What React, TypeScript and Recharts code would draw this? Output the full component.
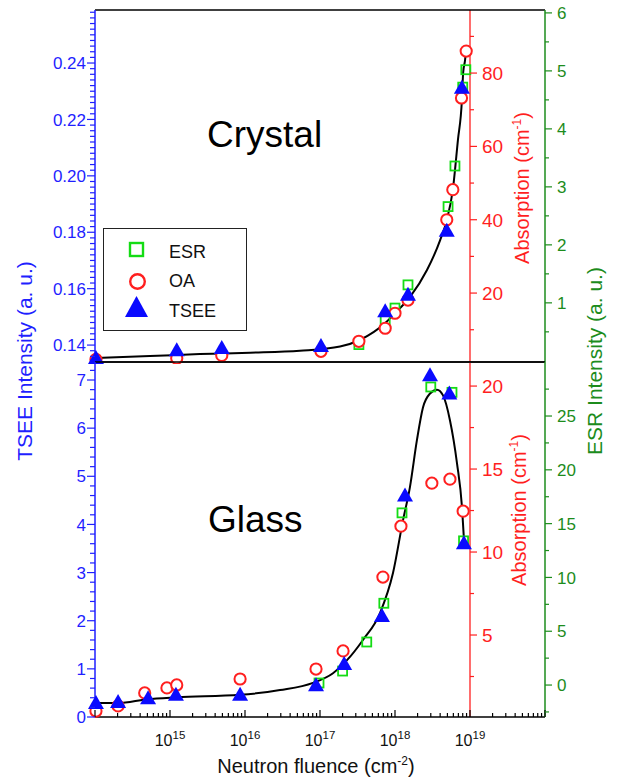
import React from "react";
import {
  ComposedChart,
  Scatter,
  Line,
  XAxis,
  YAxis,
  ReferenceLine,
  ReferenceDot,
  Legend,
} from "recharts";

const FONT = "'Liberation Sans', Arial, Helvetica, sans-serif";
const BLUE = "#1f1fff";
const RED = "#ff1f1f";
const GREEN = "#1c8c1c";
const LIME = "#14dc14";

// ---- shared x axis (log neutron fluence) ----
const xDomain: [number, number] = [1e14, 1e20];
const xDecades = [14, 15, 16, 17, 18, 19];
const xTickExponents = [15, 16, 17, 18, 19];
const redAxisAt = 1e19;

// ---- Crystal panel ----
const crystalTseeFluence = [1.03e14, 1.23e15, 4.9e15, 1.03e17, 7.4e17, 1.49e18, 4.9e18, 7.8e18];
const crystalTsee = [0.1354, 0.1382, 0.139, 0.1397, 0.152, 0.1578, 0.1805, 0.2312];
const crystalOaFluence = [1.03e14, 1.23e15, 4.9e15, 1.03e17, 3.3e17, 7.4e17, 1.0e18, 1.49e18, 4.9e18, 5.9e18, 7.7e18, 8.9e18];
const crystalOa = [1.9, 2.2, 3.0, 4.1, 6.85, 10.4, 14.5, 18.1, 40.0, 48.2, 73.2, 86.0];
const crystalEsrFluence = [3.3e17, 7.4e17, 1.0e18, 1.49e18, 5.1e18, 6.3e18, 8.0e18, 8.8e18];
const crystalEsr = [0.28, 0.7, 0.91, 1.31, 2.66, 3.36, 4.72, 5.02];
const crystalFitFluence = [
  1.0e14, 5.4e14, 2.5e15, 1.17e16, 5.4e16, 1.85e17, 3.4e17, 7.4e17, 1.0e18, 1.58e18,
  2.67e18, 4.0e18, 4.9e18, 5.9e18, 6.9e18, 7.8e18, 8.1e18, 8.6e18, 8.85e18,
];
const crystalFit = [
  0.1354, 0.1361, 0.1368, 0.1373, 0.138, 0.1395, 0.1418, 0.1478, 0.1513, 0.157,
  0.1666, 0.1772, 0.1843, 0.195, 0.2127, 0.2269, 0.2365, 0.2411, 0.2446,
];

// ---- Glass panel ----
const glassTseeFluence = [1.03e14, 2.03e14, 5.1e14, 1.2e15, 8.6e15, 8.85e16, 2.1e17, 6.7e17, 1.36e18, 2.93e18, 5.3e18, 8.3e18];
const glassTsee = [0.29, 0.31, 0.39, 0.46, 0.46, 0.66, 1.1, 2.1, 4.6, 7.1, 6.72, 3.61];
const glassOaFluence = [1.03e14, 2.03e14, 4.6e14, 9.1e14, 1.23e15, 8.6e15, 8.85e16, 2.03e17, 6.9e17, 1.2e18, 3.1e18, 5.4e18, 8.1e18];
const glassOa = [0.42, 0.73, 1.51, 1.81, 1.99, 2.35, 2.95, 4.04, 8.49, 11.56, 14.15, 14.39, 12.46];
const glassEsrFluence = [9.7e16, 2.0e17, 4.2e17, 7.1e17, 1.24e18, 3.0e18, 5.75e18, 8.2e18];
const glassEsr = [0.19, 1.3, 4.0, 7.6, 16.0, 27.7, 27.2, 13.4];
const glassFitFluence = [
  1.03e14, 2.03e14, 4.93e14, 1.24e15, 8.57e15, 2.93e16, 8.07e16, 1.49e17, 2.29e17, 3.74e17,
  6.31e17, 9.4e17, 1.28e18, 1.58e18, 1.96e18, 2.36e18, 2.93e18, 3.63e18, 4.37e18, 5.41e18,
  6.71e18, 7.82e18, 8.32e18,
];
const glassFit = [
  0.29, 0.29, 0.37, 0.41, 0.46, 0.56, 0.71, 0.91, 1.18, 1.6,
  2.16, 2.99, 4.09, 4.77, 5.75, 6.43, 6.72, 6.8, 6.68, 6.16,
  5.27, 4.36, 3.67,
];

const legendNames = ["ESR", "OA", "TSEE"];

type Pt = { x: number; y: number };
const pts = (xs: number[], ys: number[]): Pt[] => xs.map((x, i) => ({ x, y: ys[i] }));

const steps = (a: number, b: number, s: number) => {
  const out: number[] = [];
  const n = Math.round((b - a) / s);
  for (let i = 0; i <= n; i++) out.push(+(a + i * s).toFixed(6));
  return out;
};

const xTicks = [...xDecades.flatMap((d) => [1, 2, 3, 4, 5, 6, 7, 8, 9].map((m) => m * 10 ** d)), 1e20];

interface AxisSpec {
  domain: [number, number];
  ticks: number[];
  majors: number[];
  labels: string[];
}

const isMajorX = (v: number) => {
  const e = Math.log10(v);
  return Math.abs(e - Math.round(e)) < 1e-6;
};

const makeYTick =
  (side: 1 | -1, spec: AxisSpec, color: string, size: number, gap: number, majorLen: number, minorLen: number) =>
  (props: any) => {
    const { x, y, payload } = props;
    const i = spec.majors.findIndex((m) => Math.abs(m - payload.value) < 1e-7);
    const len = i >= 0 ? majorLen : minorLen;
    return (
      <g>
        <line x1={x} x2={x + side * len} y1={y} y2={y} stroke={color} strokeWidth={1.2} />
        {i >= 0 && (
          <text
            x={x + side * gap}
            y={y}
            dy="0.36em"
            textAnchor={side < 0 ? "end" : "start"}
            fill={color}
            fontSize={size}
            fontFamily={FONT}
          >
            {spec.labels[i]}
          </text>
        )}
      </g>
    );
  };

const xTopTick = (props: any) => {
  const { x, y, payload } = props;
  return <line x1={x} x2={x} y1={y} y2={y + (isMajorX(payload.value) ? 7 : 4)} stroke="#000" strokeWidth={1.2} />;
};

const xBottomTick = (props: any) => {
  const { x, y, payload } = props;
  const major = isMajorX(payload.value);
  const exp = Math.round(Math.log10(payload.value));
  return (
    <g>
      <line x1={x} x2={x} y1={y} y2={y - (major ? 7 : 4)} stroke="#000" strokeWidth={1.2} />
      {major && xTickExponents.includes(exp) && (
        <text x={x} y={y + 29} textAnchor="middle" fontFamily={FONT} fontSize={16} fill="#111">
          10
          <tspan dy={-7} fontSize={11.5}>
            {exp}
          </tspan>
        </text>
      )}
    </g>
  );
};

const SquareMark = (p: any) => (
  <rect x={p.cx - 4.5} y={p.cy - 4.5} width={9} height={9} fill="none" stroke={LIME} strokeWidth={1.8} />
);
const CircleMark = (p: any) => <circle cx={p.cx} cy={p.cy} r={5.6} fill="#fff" stroke={RED} strokeWidth={2} />;
const TriangleMark = (p: any) => (
  <polygon
    points={`${p.cx},${p.cy - 8} ${p.cx - 8},${p.cy + 6} ${p.cx + 8},${p.cy + 6}`}
    fill="#0a0aff"
  />
);

const LegendBox = () => (
  <div
    style={{
      width: 144,
      height: 103,
      border: "1.3px solid #222",
      boxSizing: "border-box",
      position: "relative",
      background: "#fff",
    }}
  >
    <svg width={144} height={103} style={{ position: "absolute", left: -1, top: -1 }}>
      <rect x={27} y={15} width={13} height={13} fill="none" stroke={LIME} strokeWidth={2.4} />
      <circle cx={34.5} cy={53.5} r={7.3} fill="none" stroke={RED} strokeWidth={2.4} />
      <polygon points="33.5,68 22,89 45,89" fill="#0a0aff" />
      {legendNames.map((n, i) => (
        <text key={n} x={66} y={[30, 59, 89][i]} fontFamily={FONT} fontSize={18} fill="#111">
          {n}
        </text>
      ))}
    </svg>
  </div>
);

interface PanelProps {
  top: number;
  height: number;
  marginTop: number;
  marginBottom: number;
  bottomAxisHeight: number;
  labelled: boolean;
  legend: boolean;
  tsee: AxisSpec;
  oa: AxisSpec;
  esr: AxisSpec;
  tseeData: Pt[];
  oaData: Pt[];
  esrData: Pt[];
  fit: Pt[];
}

function Panel(p: Readonly<PanelProps>) {
  return (
    <div style={{ position: "absolute", left: 0, top: p.top }}>
      <ComposedChart
        width={617}
        height={p.height}
        margin={{ top: p.marginTop, right: 0, bottom: p.marginBottom, left: 0 }}
        style={{ fontFamily: FONT }}
      >
        <XAxis
          xAxisId="t"
          orientation="top"
          dataKey="x"
          type="number"
          scale="log"
          domain={xDomain}
          ticks={xTicks}
          interval={0}
          height={1}
          tickSize={0}
          tickMargin={0}
          tickLine={false}
          tick={xTopTick}
          axisLine={{ stroke: "#000", strokeWidth: 1.6 }}
        />
        <XAxis
          xAxisId="b"
          dataKey="x"
          type="number"
          scale="log"
          domain={xDomain}
          ticks={xTicks}
          interval={0}
          height={p.bottomAxisHeight}
          tickSize={0}
          tickMargin={0}
          tickLine={false}
          tick={p.labelled ? xBottomTick : false}
          axisLine={{ stroke: "#000", strokeWidth: 1.6 }}
        />
        <YAxis
          yAxisId="tsee"
          dataKey="y"
          type="number"
          domain={p.tsee.domain}
          ticks={p.tsee.ticks}
          interval={0}
          width={95}
          tickSize={0}
          tickMargin={0}
          tickLine={false}
          tick={makeYTick(-1, p.tsee, BLUE, 17, 9, 8, 5)}
          axisLine={{ stroke: BLUE, strokeWidth: 1.5 }}
        />
        <YAxis yAxisId="oa" dataKey="y" type="number" domain={p.oa.domain} width={0} hide />
        <YAxis
          yAxisId="esr"
          orientation="right"
          dataKey="y"
          type="number"
          domain={p.esr.domain}
          ticks={p.esr.ticks}
          interval={0}
          width={72}
          tickSize={0}
          tickMargin={0}
          tickLine={false}
          tick={makeYTick(1, p.esr, GREEN, 17, 12, 7, 4)}
          axisLine={{ stroke: GREEN, strokeWidth: 1.5 }}
        />
        {p.legend && (
          <Legend
            layout="vertical"
            align="center"
            verticalAlign="middle"
            wrapperStyle={{ left: 103, top: 228, width: 144, height: 103 }}
            content={() => <LegendBox />}
          />
        )}
        <Line
          xAxisId="b"
          yAxisId="tsee"
          data={p.fit}
          dataKey="y"
          type="monotone"
          stroke="#000"
          strokeWidth={2}
          dot={false}
          legendType="none"
          isAnimationActive={false}
        />
        <Scatter xAxisId="b" yAxisId="esr" name="ESR" data={p.esrData} shape={SquareMark} isAnimationActive={false} />
        <Scatter xAxisId="b" yAxisId="oa" name="OA" data={p.oaData} shape={CircleMark} isAnimationActive={false} />
        <Scatter xAxisId="b" yAxisId="tsee" name="TSEE" data={p.tseeData} shape={TriangleMark} isAnimationActive={false} />
        <ReferenceLine xAxisId="b" yAxisId="oa" x={redAxisAt} stroke={RED} strokeWidth={1.3} />
        {p.oa.ticks.map((v) => {
          const i = p.oa.majors.findIndex((m) => Math.abs(m - v) < 1e-7);
          return (
            <ReferenceDot
              key={v}
              xAxisId="b"
              yAxisId="oa"
              x={redAxisAt}
              y={v}
              ifOverflow="visible"
              shape={(d: any) => (
                <g>
                  <line x1={d.cx} x2={d.cx + (i >= 0 ? 7 : 4)} y1={d.cy} y2={d.cy} stroke={RED} strokeWidth={1.2} />
                  {i >= 0 && (
                    <text x={d.cx + 12} y={d.cy} dy="0.36em" fill={RED} fontSize={19} fontFamily={FONT}>
                      {p.oa.labels[i]}
                    </text>
                  )}
                </g>
              )}
            />
          );
        })}
      </ComposedChart>
    </div>
  );
}

const crystalAxes = {
  tsee: {
    domain: [0.134, 0.2588] as [number, number],
    ticks: steps(0.136, 0.258, 0.002),
    majors: [0.14, 0.16, 0.18, 0.2, 0.22, 0.24],
    labels: ["0.14", "0.16", "0.18", "0.20", "0.22", "0.24"],
  },
  oa: {
    domain: [1.2, 97.2] as [number, number],
    ticks: steps(10, 90, 10),
    majors: [20, 40, 60, 80],
    labels: ["20", "40", "60", "80"],
  },
  esr: {
    domain: [-0.02, 6.05] as [number, number],
    ticks: steps(0.5, 6, 0.5),
    majors: [1, 2, 3, 4, 5, 6],
    labels: ["1", "2", "3", "4", "5", "6"],
  },
};

const glassAxes = {
  tsee: {
    domain: [0, 7.374] as [number, number],
    ticks: steps(0, 7.2, 0.2),
    majors: [0, 1, 2, 3, 4, 5, 6, 7],
    labels: ["0", "1", "2", "3", "4", "5", "6", "7"],
  },
  oa: {
    domain: [0.06, 21.45] as [number, number],
    ticks: steps(2.5, 20, 2.5),
    majors: [5, 10, 15, 20],
    labels: ["5", "10", "15", "20"],
  },
  esr: {
    domain: [-2.97, 30.02] as [number, number],
    ticks: steps(-2.5, 27.5, 2.5),
    majors: [0, 5, 10, 15, 20, 25],
    labels: ["0", "5", "10", "15", "20", "25"],
  },
};

export default function App() {
  return (
    <div style={{ position: "absolute", left: 0, top: 0, width: 617, height: 782, background: "#fff" }}>
      <Panel
        top={0}
        height={364}
        marginTop={9}
        marginBottom={1}
        bottomAxisHeight={1}
        labelled={false}
        legend
        {...crystalAxes}
        tseeData={pts(crystalTseeFluence, crystalTsee)}
        oaData={pts(crystalOaFluence, crystalOa)}
        esrData={pts(crystalEsrFluence, crystalEsr)}
        fit={pts(crystalFitFluence, crystalFit)}
      />
      <Panel
        top={355}
        height={427}
        marginTop={6}
        marginBottom={0}
        bottomAxisHeight={65}
        labelled
        legend={false}
        {...glassAxes}
        tseeData={pts(glassTseeFluence, glassTsee)}
        oaData={pts(glassOaFluence, glassOa)}
        esrData={pts(glassEsrFluence, glassEsr)}
        fit={pts(glassFitFluence, glassFit)}
      />
      <svg
        width={617}
        height={782}
        style={{ position: "absolute", left: 0, top: 0, pointerEvents: "none" }}
        fontFamily={FONT}
      >
        <text x={207} y={147} fontSize={37} fill="#000">
          Crystal
        </text>
        <text x={208} y={532} fontSize={37} fill="#000">
          Glass
        </text>
        <text transform="translate(32,361) rotate(-90)" textAnchor="middle" fontSize={21} fill={BLUE}>
          TSEE Intensity (a. u.)
        </text>
        <text transform="translate(602,361) rotate(-90)" textAnchor="middle" fontSize={21} fill={GREEN}>
          ESR Intensity (a. u.)
        </text>
        <text transform="translate(529,188) rotate(-90)" textAnchor="middle" fontSize={20} fill={RED}>
          Absorption (cm
          <tspan dy={-8} fontSize={12}>
            -1
          </tspan>
          <tspan dy={8}>)</tspan>
        </text>
        <text transform="translate(526,510) rotate(-90)" textAnchor="middle" fontSize={20} fill={RED}>
          Absorption (cm
          <tspan dy={-8} fontSize={12}>
            -1
          </tspan>
          <tspan dy={8}>)</tspan>
        </text>
        <text x={316} y={773} textAnchor="middle" fontSize={20} fill="#111">
          Neutron fluence (cm
          <tspan dy={-8} fontSize={12}>
            -2
          </tspan>
          <tspan dy={8}>)</tspan>
        </text>
      </svg>
    </div>
  );
}
